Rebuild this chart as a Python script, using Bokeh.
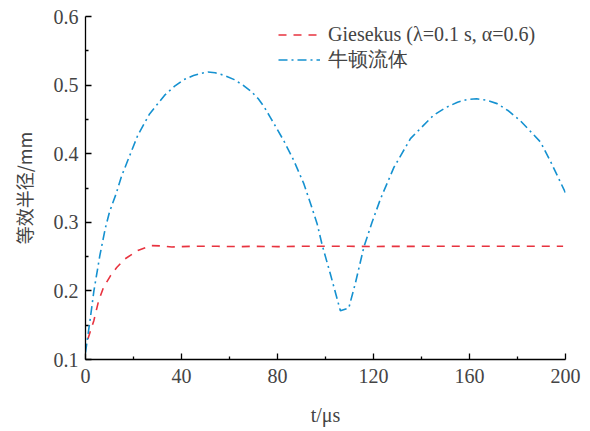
from bokeh.plotting import figure
from bokeh.models import (ColumnDataSource, FixedTicker, PrintfTickFormatter,
                          Range1d)
from bokeh.embed import file_html
from bokeh.resources import INLINE

# Equivalent radius (mm) versus time (us)
t_newton = [0, 2, 3.5, 6, 8.3, 10, 12.8, 15, 17.6, 21.8, 26.7, 32.9, 37, 41,
            45, 48, 51, 54, 58, 62, 66, 69, 72, 74.5, 77, 82.6, 86.8, 91, 94,
            96.5, 98.6, 102, 106.2, 109.7, 112.5, 116, 119.4, 122.9, 128.5,
            135.4, 145, 150, 155, 159, 163, 167, 171.5, 176, 181.2, 185,
            189.6, 194, 200]
r_newton = [0.110, 0.160, 0.200, 0.252, 0.292, 0.315, 0.342, 0.367, 0.390,
            0.427, 0.458, 0.485, 0.498, 0.508, 0.514, 0.517, 0.519, 0.518,
            0.514, 0.508, 0.499, 0.491, 0.480, 0.468, 0.453, 0.419, 0.390,
            0.356, 0.325, 0.298, 0.267, 0.225, 0.171, 0.175, 0.212, 0.264,
            0.300, 0.334, 0.380, 0.422, 0.456, 0.467, 0.475, 0.479, 0.480,
            0.478, 0.473, 0.463, 0.448, 0.434, 0.417, 0.387, 0.343]

t_gsk = [1, 3.5, 5.5, 7.5, 10.4, 13, 16.2, 21.8, 27.4, 32, 36, 40, 45, 55,
         65, 70, 80, 90, 100, 110, 120, 140, 160, 180, 199]
r_gsk = [0.130, 0.157, 0.186, 0.205, 0.222, 0.234, 0.246, 0.259, 0.266,
         0.2655, 0.264, 0.2645, 0.265, 0.265, 0.2645, 0.265, 0.2645, 0.265,
         0.265, 0.265, 0.2648, 0.265, 0.265, 0.265, 0.265]

x_ticks = [0, 40, 80, 120, 160, 200]
x_minor = [20, 60, 100, 140, 180]
y_ticks = [0.1, 0.2, 0.3, 0.4, 0.5, 0.6]
y_minor = [0.15, 0.25, 0.35, 0.45, 0.55]

label_gsk = "Giesekus (λ=0.1 s, α=0.6)"
label_newton = "牛顿流体"
y_title = "等效半径/mm"
x_title = "t/μs"

SERIF = "Liberation Serif"
CJK = "Noto Sans CJK SC"
RED = "#E8333F"
BLUE = "#1591D0"

p = figure(width=590, height=431, output_backend="svg", toolbar_location=None,
           x_range=Range1d(0, 200), y_range=Range1d(0.1, 0.6),
           min_border_left=85, min_border_right=25, min_border_top=16,
           min_border_bottom=72, title=None)

src_g = ColumnDataSource(dict(t=t_gsk, r=r_gsk))
src_n = ColumnDataSource(dict(t=t_newton, r=r_newton))

p.line("t", "r", source=src_g, line_color=RED, line_width=1.6,
       line_dash="8 7", legend_label=label_gsk)
p.line("t", "r", source=src_n, line_color=BLUE, line_width=1.6,
       line_dash="9 4 2 4", legend_label=label_newton)

p.outline_line_color = None
p.grid.visible = False

xax = p.xaxis[0]
yax = p.yaxis[0]
xax.ticker = FixedTicker(ticks=x_ticks, minor_ticks=x_minor)
yax.ticker = FixedTicker(ticks=y_ticks, minor_ticks=y_minor)
xax.formatter = PrintfTickFormatter(format="%d")
yax.formatter = PrintfTickFormatter(format="%.1f")

for ax in (xax, yax):
    ax.major_label_text_font = SERIF
    ax.major_label_text_font_size = "20px"
    ax.axis_line_color = "black"
    ax.axis_line_width = 1.3
    ax.major_tick_line_color = "black"
    ax.minor_tick_line_color = "black"
    ax.major_tick_line_width = 1.3
    ax.minor_tick_line_width = 1.3
    ax.major_tick_in = 6
    ax.major_tick_out = 0
    ax.minor_tick_in = 3
    ax.minor_tick_out = 0

xax.major_label_standoff = 9
yax.major_label_standoff = 7

xax.axis_label = x_title
xax.axis_label_text_font = SERIF
xax.axis_label_text_font_size = "20px"
xax.axis_label_text_font_style = "normal"
xax.axis_label_standoff = 18

yax.axis_label = y_title
yax.axis_label_text_font = CJK
yax.axis_label_text_font_size = "18px"
yax.axis_label_text_font_style = "normal"
yax.axis_label_standoff = 14

lg = p.legend[0]
lg.location = (193, 286)
lg.padding = 0
lg.margin = 0
lg.spacing = 0
lg.label_height = 21
lg.glyph_height = 21
lg.glyph_width = 42
lg.label_standoff = 8
lg.border_line_color = None
lg.background_fill_alpha = 0
lg.label_text_font = SERIF
lg.label_text_font_size = "20px"

open("out.html", "w").write(file_html(p, INLINE))
